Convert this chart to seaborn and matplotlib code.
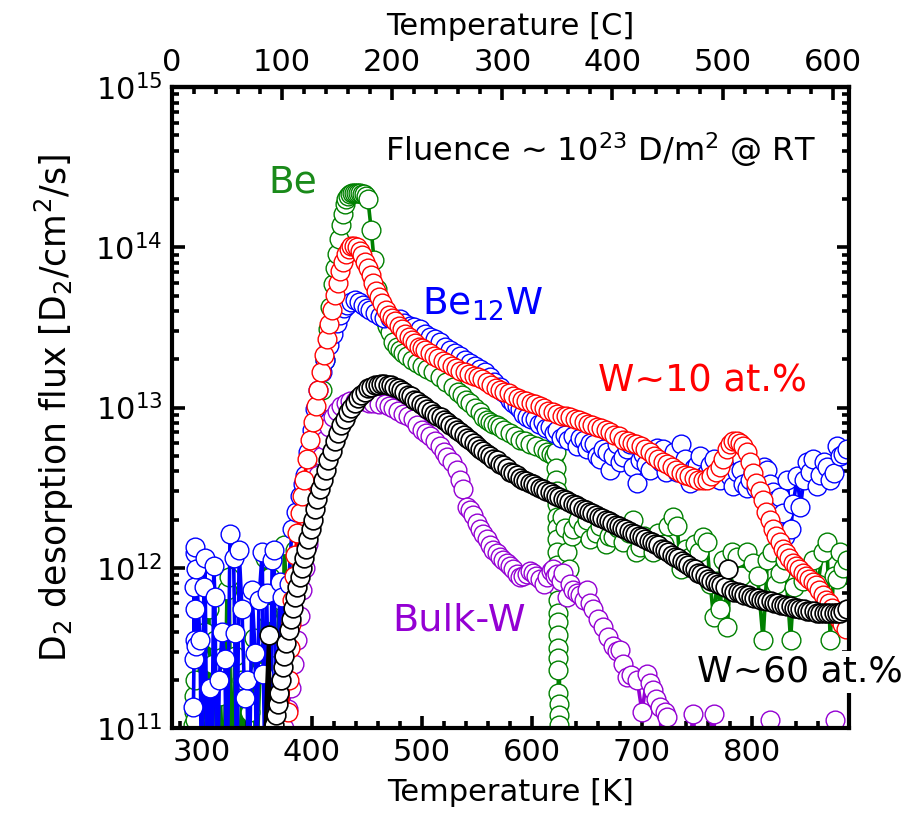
import numpy as np
import pandas as pd
import matplotlib
matplotlib.use("Agg")
import matplotlib.pyplot as plt
import seaborn as sns
from matplotlib.ticker import MultipleLocator, FixedLocator, LogLocator, NullFormatter

# (temperature [K], log10 of D2 flux)
be_pts = [
    (292.5, 11.02), (293, 11.1), (293, 11.2), (293.5, 11.3), (294, 11.05), (296, 10.5), (298, 11.45),
    (300, 10.5), (303, 11.6), (304, 10.6), (306.6, 11.74), (308, 10.5), (310, 11.4), (312, 11.55),
    (314, 10.5), (317, 11.2), (320, 10.6), (323, 11.86), (325, 11.94), (327, 10.5), (330, 11.45),
    (333, 10.6), (337, 11.3), (340, 10.5), (344, 11.1), (347.5, 11.56), (349, 10.6), (353, 11.35),
    (357.5, 12.06), (359, 11.72), (361, 10.5), (362, 11.94), (365, 10.6), (368, 11.5), (371, 11.8),
    (373, 10.8), (375, 12.14), (378, 11.7), (381, 11.9), (385, 12.11), (388, 12.25), (391, 12.35),
    (394, 12.45), (397, 12.58), (400, 12.7), (403, 12.82), (406, 12.95), (409, 13.11), (412, 13.3),
    (415, 13.49), (417, 13.63), (419, 13.77), (421, 13.87), (423, 13.96), (425, 14.05), (426.6, 14.14),
    (428.5, 14.21), (430, 14.27), (431.5, 14.3), (433, 14.32), (435, 14.33), (436.6, 14.34),
    (438.5, 14.34), (440, 14.34), (442, 14.34), (444, 14.34), (446, 14.33), (447.5, 14.33),
    (449.5, 14.32), (451, 14.3), (454, 14.11), (456.6, 13.92), (459, 13.74), (462, 13.62),
    (464, 13.58), (466, 13.55), (468.5, 13.51), (471, 13.47), (474, 13.41), (477, 13.38), (480, 13.36),
    (483, 13.34), (486.6, 13.32), (491, 13.3), (495.7, 13.28), (500, 13.26), (505, 13.24), (510, 13.22),
    (516.6, 13.19), (522, 13.16), (528.5, 13.13), (533, 13.1), (536.6, 13.08), (540, 13.05),
    (544, 13.03), (548, 13.0), (553, 12.97), (556, 12.94), (559, 12.92), (562, 12.91), (565, 12.9),
    (568, 12.89), (571, 12.88), (575, 12.86), (580, 12.84), (585, 12.82), (589, 12.8), (594, 12.79),
    (598, 12.77), (604, 12.76), (610, 12.74), (614, 12.72), (617, 12.71), (620, 12.7),
    (621.5, 12.72), (622, 12.62), (622, 12.55), (622.5, 12.48), (622.5, 12.4), (622.5, 12.32),
    (623, 12.25), (623, 12.18), (623, 12.1), (623, 12.02), (623, 11.95), (623.5, 11.88), (623.5, 11.8),
    (623.5, 11.72), (623.5, 11.66), (624, 11.58), (624, 11.5), (624, 11.44), (624, 11.36),
    (624, 11.22), (624.5, 11.15), (624.5, 11.08), (624.5, 11.02),
    (627, 12.32), (630, 12.25), (632, 12.1), (633.5, 11.99), (636, 12.2), (637.5, 12.24), (642, 12.3),
    (646, 12.25), (650, 12.3), (653, 12.18), (658, 12.22), (662, 12.26), (667, 12.15), (670, 12.2),
    (674, 12.19), (678, 12.25), (683, 12.16), (688, 12.22), (692, 12.3), (695, 12.1), (698.5, 12.13),
    (702, 12.2), (705, 12.18), (710, 12.1), (715, 12.22), (720, 12.15), (724, 12.26), (728.5, 12.32),
    (732, 12.26), (735, 11.99), (740, 12.12), (744, 12.07), (748, 12.15), (752, 12.1), (755.7, 12.19),
    (759, 12.16), (762, 11.9), (765, 11.69), (768.5, 11.92), (771, 11.74), (774, 12.05), (777.5, 11.63),
    (782, 12.1), (786.6, 12.07), (790, 11.95), (795, 12.1), (801, 12.03), (805, 11.95), (810, 11.55),
    (814, 12.05), (818, 12.1), (822, 11.9), (825.7, 11.97), (830, 12.05), (835, 11.55), (838, 11.88),
    (842, 12.0), (846, 11.92), (850, 11.97), (855, 12.05), (860, 11.9), (864, 12.1), (868, 12.16),
    (871, 11.55), (874, 11.95), (877.5, 11.93), (880, 12.1), (883, 12.0), (886.6, 12.05),
]

be12w_pts = [
    (292.5, 11.13), (293, 11.43), (293, 11.88), (293.5, 12.09), (293.5, 11.55), (294, 12.13),
    (294, 11.74), (294.5, 11.51), (295, 11.99), (298.5, 11.55), (300, 10.5), (302, 11.88),
    (303, 12.06), (305, 10.5), (307.5, 11.25), (309, 10.6), (311, 12.01), (312, 11.82), (314, 10.5),
    (316, 11.3), (318.5, 11.6), (321, 11.43), (323, 10.5), (325.7, 12.21), (329, 12.06), (330, 11.59),
    (332, 10.6), (334, 12.11), (336.6, 11.74), (339, 11.19), (341, 11.3), (343, 10.5), (345.7, 11.86),
    (348.5, 11.47), (350, 10.6), (352, 11.8), (355, 12.1), (356, 11.34), (358, 10.5), (359, 11.84),
    (362, 10.7), (364, 12.05), (365.7, 12.11), (368, 10.6), (371, 11.91), (373, 11.82), (376, 11.4),
    (379, 11.9), (382, 12.24), (385.5, 12.35), (389.4, 12.45), (392, 12.52), (394, 12.58),
    (397, 12.72), (400, 12.86), (403, 12.99), (405.7, 13.11), (409, 13.22), (412, 13.3),
    (415.5, 13.39), (419, 13.46), (422.5, 13.53), (425.7, 13.58), (429, 13.62), (432, 13.64),
    (435.5, 13.66), (439, 13.67), (443, 13.66), (446.6, 13.64), (450, 13.62), (453, 13.61),
    (457, 13.59), (462, 13.57), (466, 13.56), (471, 13.56), (475, 13.55), (480, 13.55), (484, 13.53),
    (489, 13.51), (493, 13.5), (498.5, 13.49), (503, 13.46), (507.5, 13.44), (512, 13.43),
    (516.6, 13.41), (521, 13.38), (525.7, 13.36), (530, 13.34), (535, 13.32), (539, 13.3), (544, 13.28),
    (548, 13.26), (553, 13.24), (557, 13.22), (562, 13.19), (566, 13.16), (571, 13.13), (574, 13.1),
    (577.5, 13.08), (580, 13.05), (583, 13.03), (586, 13.01), (589, 12.99), (592, 12.96),
    (595.7, 12.94), (599, 12.93), (603, 12.93), (606, 12.9), (610, 12.91), (613, 12.87),
    (616.6, 12.88), (620, 12.84), (623, 12.86), (626, 12.81), (630, 12.83), (633, 12.8),
    (637.5, 12.82), (641, 12.76), (644, 12.81), (647, 12.8), (650, 12.74), (653, 12.78), (656, 12.77),
    (659, 12.7), (662, 12.68), (665, 12.74), (668.5, 12.72), (671, 12.61), (674, 12.7), (677.5, 12.77),
    (680, 12.66), (683, 12.69), (686, 12.74), (689, 12.77), (692, 12.63), (695.7, 12.53), (698, 12.67),
    (701, 12.71), (704, 12.65), (707.5, 12.61), (711, 12.7), (714, 12.75), (717, 12.66), (719, 12.74),
    (722, 12.6), (725.7, 12.64), (729, 12.72), (732, 12.6), (735, 12.77), (739, 12.68), (741, 12.58),
    (744, 12.53), (747, 12.62), (750, 12.64), (753, 12.7), (756, 12.57), (759, 12.59), (762, 12.64),
    (765, 12.68), (768, 12.58), (771, 12.55), (774, 12.66), (777.5, 12.61), (780, 12.57), (783, 12.51),
    (786, 12.6), (789.5, 12.61), (792, 12.52), (795, 12.5), (798.5, 12.55), (801, 12.6), (804, 12.5),
    (807.5, 12.59), (811, 12.63), (814, 12.61), (816, 12.52), (819, 12.47), (822, 12.42),
    (825.7, 12.44), (828.5, 12.34), (830, 12.2), (832, 12.55), (835, 12.24), (837.5, 12.4),
    (841, 12.57), (844, 12.38), (847, 12.55), (850, 12.66), (853, 12.6), (855.7, 12.68), (859, 12.51),
    (862, 12.58), (865, 12.66), (868.5, 12.63), (871, 12.55), (874, 12.59), (877.5, 12.76),
    (880, 12.7), (883, 12.71), (886.6, 12.74),
]

bulkw_pts = [
    (372, 10.7), (375, 11.0), (378, 11.12), (381, 11.25), (384, 11.4), (386.5, 11.55), (389, 11.7),
    (391.5, 11.86), (394, 12.0), (397, 12.15), (400, 12.3), (403, 12.45), (406, 12.58), (409, 12.7),
    (412, 12.8), (415.5, 12.88), (419, 12.94), (423, 12.98), (427, 13.01), (431, 13.03), (435, 13.04),
    (439, 13.04), (444, 13.04), (448, 13.04), (452, 13.03), (456, 13.03), (461, 13.02),
    (466.6, 13.02), (470, 13.01), (474, 13.0), (478, 12.98), (483, 12.96), (487, 12.95), (492, 12.93),
    (496, 12.89), (500, 12.86), (504, 12.84), (507.5, 12.82), (512, 12.79), (516.6, 12.76),
    (520, 12.72), (523, 12.69), (527, 12.66), (532, 12.61), (535, 12.55), (537.5, 12.49), (541, 12.38),
    (544, 12.36), (546.6, 12.33), (550, 12.28), (553, 12.24), (556, 12.21), (559, 12.18), (562, 12.14),
    (565, 12.11), (568, 12.09), (571, 12.07), (574, 12.05), (577.5, 12.03), (580, 12.01), (583, 11.99),
    (586, 11.96), (589, 11.94), (592, 11.95), (595.7, 11.96), (598, 11.98), (601, 11.97), (604, 11.95),
    (607.5, 11.93), (611, 11.9), (614, 11.94), (617, 11.98), (619, 11.99), (621, 11.95), (623, 11.96),
    (626, 11.92), (628.5, 11.97), (632, 11.82), (635, 11.9), (637.5, 11.86), (641, 11.84),
    (644, 11.83), (647, 11.8), (650, 11.86), (653, 11.78), (655.7, 11.74), (660, 11.68), (665, 11.63),
    (669, 11.57), (674, 11.51), (677, 11.48), (680, 11.49), (683, 11.4), (686.6, 11.32), (690, 11.33),
    (695.7, 11.3), (700, 11.1), (705, 11.34), (707, 11.28), (710, 11.24), (713, 11.18),
    (716.6, 11.13), (719, 10.5), (721, 11.1), (723, 11.07), (726, 10.5), (730, 10.8), (735, 10.5),
    (740, 10.7), (746.6, 11.09), (752, 10.5), (758, 10.8), (765, 11.09), (770, 10.5), (778, 10.6),
    (785, 10.5), (795, 10.7), (805, 10.5), (816.6, 11.05), (825, 10.5), (835, 10.6), (845, 10.5),
    (860, 10.7), (875.7, 11.05), (884, 10.5),
]

w10_pts = [
    (378, 11.1), (379, 11.3), (380, 11.5), (381, 11.65), (382, 11.8), (383.5, 11.95), (385, 12.08),
    (387, 12.22), (389, 12.34), (391, 12.45), (393, 12.55), (396, 12.68), (398.5, 12.8), (401, 12.91),
    (403.5, 13.01), (406, 13.11), (408.5, 13.22), (411, 13.33), (413.5, 13.43), (416, 13.52),
    (418.5, 13.61), (421, 13.7), (423.5, 13.78), (426, 13.85), (428.5, 13.91), (431, 13.96),
    (433.5, 13.99), (436, 14.01), (438.5, 14.01), (441, 14.0), (443.5, 13.98), (446, 13.95),
    (448.5, 13.91), (451, 13.87), (453.5, 13.83), (456, 13.78), (458.5, 13.73), (461, 13.69),
    (464, 13.65), (467, 13.61), (470, 13.58), (473, 13.56), (476, 13.54), (479, 13.51), (482, 13.49),
    (485, 13.46), (488, 13.44), (491, 13.42), (494, 13.4), (497, 13.38), (500, 13.37), (503, 13.36),
    (507, 13.34), (511, 13.32), (515, 13.31), (519, 13.29), (523, 13.28), (527, 13.26), (531, 13.25),
    (535, 13.23), (539, 13.22), (543, 13.21), (547, 13.2), (551, 13.19), (555, 13.18), (559, 13.16),
    (563, 13.14), (567, 13.12), (571, 13.11), (575, 13.1), (579, 13.09), (583, 13.07), (587, 13.06),
    (591, 13.05), (595, 13.04), (599, 13.03), (603, 13.02), (607, 13.01), (611, 13.0), (615, 12.98),
    (619, 12.97), (623, 12.96), (627, 12.95), (631, 12.95), (635, 12.94), (639, 12.93), (643, 12.92),
    (647, 12.91), (651, 12.9), (655, 12.89), (659, 12.88), (663, 12.87), (667, 12.86), (671, 12.85),
    (675, 12.83), (679, 12.82), (683, 12.8), (687, 12.79), (691, 12.78), (695, 12.77), (699, 12.76),
    (703, 12.74), (707, 12.72), (711, 12.7), (715, 12.68), (719, 12.66), (723, 12.65), (727, 12.63),
    (731, 12.61), (735, 12.59), (739, 12.58), (743, 12.57), (747, 12.56), (751, 12.55), (755, 12.55),
    (759, 12.55), (763, 12.57), (767, 12.6), (771, 12.63), (774, 12.68), (777, 12.74), (780, 12.77),
    (783, 12.79), (786, 12.79), (789, 12.78), (792, 12.76), (795, 12.72), (798, 12.66), (801, 12.59),
    (804, 12.53), (807, 12.48), (810, 12.42), (813, 12.35), (816, 12.3), (819, 12.24), (822, 12.2),
    (825, 12.16), (828, 12.12), (831, 12.09), (834, 12.06), (837, 12.03), (840, 12.01), (843, 11.99),
    (846, 11.97), (849, 11.95), (852, 11.93), (855, 11.91), (858, 11.89), (861, 11.86), (864, 11.83),
    (867, 11.8), (870, 11.78), (873, 11.75), (876, 11.72), (879, 11.68), (882, 11.65), (885, 11.62),
]

w60_pts = [
    (355, 10.5), (361, 11.58), (363.5, 10.5), (366, 11.02), (367.5, 11.08), (369, 11.15),
    (370.5, 11.22), (372, 11.3), (373.5, 11.38), (375, 11.45), (377, 11.53), (379, 11.61),
    (381, 11.68), (383, 11.75), (385, 11.82), (387, 11.88), (389, 11.94), (391, 12.0), (393, 12.06),
    (395, 12.12), (397, 12.18), (399, 12.24), (401, 12.3), (403, 12.37), (405, 12.43), (407.5, 12.49),
    (410, 12.55), (412.5, 12.61), (415, 12.67), (418, 12.73), (421, 12.79), (424, 12.84), (427, 12.89),
    (430, 12.93), (433, 12.97), (436, 13.0), (439, 13.03), (442, 13.06), (445, 13.08), (448, 13.1),
    (451, 13.12), (454, 13.13), (457, 13.14), (460, 13.14), (463, 13.15), (466, 13.15), (469, 13.14),
    (472, 13.14), (475, 13.13), (478, 13.12), (481, 13.11), (484, 13.1), (487, 13.08), (490, 13.07),
    (493, 13.05), (496, 13.04), (499, 13.02), (502, 13.01), (505, 12.99), (508, 12.98), (511, 12.96),
    (514, 12.95), (517, 12.94), (520, 12.92), (523, 12.91), (526, 12.89), (529, 12.88), (532, 12.86),
    (535, 12.85), (538, 12.83), (541, 12.81), (544, 12.8), (547, 12.78), (550, 12.76), (553, 12.74),
    (556, 12.73), (559, 12.71), (562, 12.7), (565, 12.68), (568, 12.67), (571, 12.65), (574, 12.64),
    (577, 12.62), (580, 12.6), (583, 12.59), (586, 12.58), (589, 12.56), (592, 12.55), (595, 12.54),
    (598, 12.53), (601, 12.52), (604, 12.51), (607, 12.5), (610, 12.49), (613, 12.48), (616, 12.47),
    (619, 12.46), (622, 12.45), (625, 12.44), (628, 12.43), (631, 12.42), (634, 12.41), (637, 12.4),
    (640, 12.39), (643, 12.38), (646, 12.37), (649, 12.36), (652, 12.35), (655, 12.34), (658, 12.33),
    (661, 12.32), (664, 12.31), (667, 12.3), (670, 12.29), (673, 12.28), (676, 12.27), (679, 12.26),
    (682, 12.25), (685, 12.24), (688, 12.23), (691, 12.22), (694, 12.21), (697, 12.2), (700, 12.19),
    (703, 12.18), (706, 12.17), (709, 12.16), (712, 12.15), (715, 12.14), (718, 12.12), (721, 12.11),
    (724, 12.1), (727, 12.08), (730, 12.07), (733, 12.06), (736, 12.04), (739, 12.03), (742, 12.02),
    (745, 12.0), (748, 11.99), (751, 11.97), (754, 11.96), (757, 11.95), (760, 11.93), (763, 11.92),
    (766, 11.91), (769, 11.9), (772, 11.89), (775, 11.88), (778, 11.99), (781, 11.86), (784, 11.85),
    (787, 11.85), (790, 11.84), (793, 11.83), (796, 11.83), (799, 11.82), (802, 11.81), (805, 11.81),
    (808, 11.8), (811, 11.8), (814, 11.79), (817, 11.79), (820, 11.78), (823, 11.78), (826, 11.77),
    (829, 11.77), (832, 11.76), (835, 11.76), (838, 11.75), (841, 11.75), (844, 11.74), (847, 11.74),
    (850, 11.73), (853, 11.73), (856, 11.73), (859, 11.72), (862, 11.72), (865, 11.72), (868, 11.72),
    (871, 11.72), (874, 11.72), (877, 11.72), (880, 11.72), (883, 11.73), (886, 11.74),
]

celsius_ticks = [0, 100, 200, 300, 400, 500, 600]

# drawing order: first is at the bottom
series = [
    ("Be", be_pts, "#008000"),
    ("Be12W", be12w_pts, "#0000ff"),
    ("Bulk-W", bulkw_pts, "#9400d3"),
    ("W~10 at.%", w10_pts, "#ff0000"),
    ("W~60 at.%", w60_pts, "#000000"),
]

sns.set_theme(style="ticks")
plt.rcParams["font.family"] = ["DejaVu Sans"]
plt.rcParams["mathtext.fontset"] = "dejavusans"
for key in ["axes.edgecolor", "xtick.color", "ytick.color", "text.color", "axes.labelcolor"]:
    plt.rcParams[key] = "black"

fig = plt.figure(figsize=(9.06, 8.18), dpi=100)
ax = fig.add_axes([0.190, 0.110, 0.747, 0.7835])

for name, pts, col in series:
    arr = np.array(pts)
    df = pd.DataFrame({"T": arr[:, 0], "flux": 10.0 ** arr[:, 1]})
    sns.lineplot(data=df, x="T", y="flux", ax=ax, sort=False, estimator=None,
                 color=col, linewidth=2.6, marker="o", markersize=13.5,
                 markerfacecolor="white", markeredgecolor=col,
                 markeredgewidth=1.0 if col != "#000000" else 1.2)

ax.set_yscale("log")
ax.set_xlim(273.15, 888)
ax.set_ylim(1e11, 1e15)

ax.xaxis.set_major_locator(MultipleLocator(100))
ax.xaxis.set_minor_locator(MultipleLocator(20))
ax.yaxis.set_major_locator(LogLocator(base=10))
ax.yaxis.set_minor_locator(LogLocator(base=10, subs=np.arange(2, 10)))
ax.yaxis.set_minor_formatter(NullFormatter())

ax.tick_params(which="both", direction="in", top=False, right=True, width=2.6, colors="black")
ax.tick_params(which="major", length=9, labelsize=22, pad=7)
ax.tick_params(which="minor", length=5)
for s in ax.spines.values():
    s.set_linewidth(3.0)
    s.set_color("black")

ax.set_xlabel("Temperature [K]", fontsize=22, labelpad=8)
ax.set_ylabel("D$_2$ desorption flux [D$_2$/cm$^2$/s]", fontsize=25, labelpad=14)

secax = ax.secondary_xaxis("top", functions=(lambda k: k - 273.15, lambda c: c + 273.15))
secax.xaxis.set_major_locator(FixedLocator(celsius_ticks))
secax.xaxis.set_minor_locator(MultipleLocator(20))
secax.tick_params(which="both", direction="in", width=2.6, colors="black")
secax.tick_params(which="major", length=9, labelsize=22, pad=7)
secax.tick_params(which="minor", length=5)
secax.spines["top"].set_linewidth(3.0)
secax.set_xlabel("Temperature [C]", fontsize=22, labelpad=10)

tr = ax.transAxes
ax.text(0.315, 0.884, "Fluence ~ 10$^{23}$ D/m$^2$ @ RT", transform=tr, fontsize=23,
        ha="left", va="baseline")
ax.text(0.142, 0.836, "Be", transform=tr, fontsize=27, ha="left", va="baseline", color="#1a8a1a")
ax.text(0.369, 0.645, "Be$_{12}$W", transform=tr, fontsize=27, ha="left", va="baseline", color="#0000ff")
ax.text(0.629, 0.525, "W~10 at.%", transform=tr, fontsize=26.5, ha="left", va="baseline", color="#ff0000")
ax.text(0.325, 0.152, "Bulk-W", transform=tr, fontsize=27.5, ha="left", va="baseline", color="#9400d3")
ax.text(0.775, 0.072, "W~60 at.%", transform=tr, fontsize=26, ha="left", va="baseline",
        zorder=20, clip_on=False,
        bbox=dict(facecolor="white", edgecolor="none", pad=3))

fig.savefig("out.png", dpi=100)
